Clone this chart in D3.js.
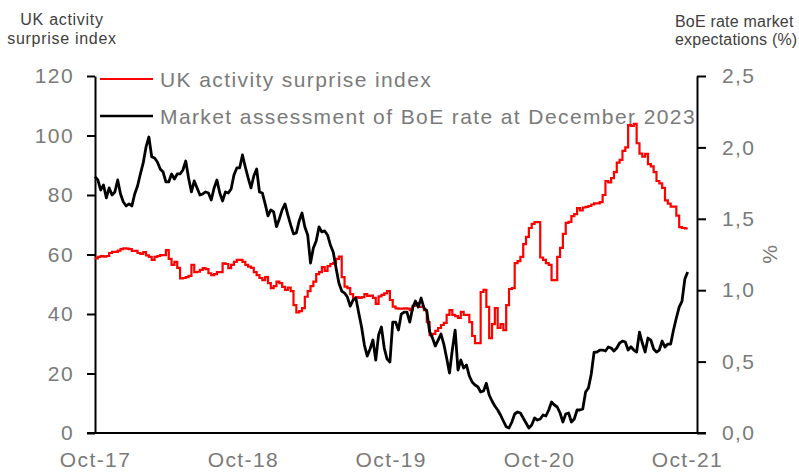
<!DOCTYPE html>
<html><head><meta charset="utf-8">
<script src="https://cdn.jsdelivr.net/npm/d3@7"></script>
<style>
html,body{margin:0;padding:0;background:#fff;}
svg text{font-family:"Liberation Sans",Arial,Helvetica,sans-serif;}
</style></head>
<body>
<svg id="chart" width="799" height="472"></svg>
<script>
// ---------------- DATA ----------------
const seriesNames = ["UK activity surprise index", "Market assessment of BoE rate at December 2023"];
const startDate = "2017-10-01";      // first weekly observation
const stepDays = 7;                  // weekly observations
// UK activity surprise index (left axis), weekly
const surpriseIndex = [
58.7,59.2,59.5,59.3,59.5,60.5,60.9,60.9,61.3,61.8,62.1,62.0,61.8,61.2,61.2,60.5,60.2,60.8,59.7,59.2,
58.2,59.2,59.5,59.8,59.8,61.5,58.5,56.5,57.5,55.5,52.0,52.1,52.4,52.8,56.5,54.1,54.2,54.8,55.4,55.1,
53.7,53.1,53.4,54.1,54.1,57.0,56.8,55.4,56.5,57.5,58.2,58.2,57.5,56.5,55.9,55.5,54.1,53.1,52.1,51.4,
52.4,50.4,48.7,49.4,50.9,50.4,49.1,48.1,48.9,47.7,43.0,40.5,41.0,42.0,45.8,47.7,49.4,50.9,53.4,54.1,
55.8,54.5,56.1,56.8,57.1,58.5,59.3,52.4,49.2,48.7,46.7,45.3,45.7,45.4,45.7,46.7,46.1,46.2,45.4,43.4,
45.9,46.4,46.9,47.7,44.7,42.5,41.9,41.8,41.8,41.9,41.8,41.3,42.7,43.7,42.4,42.4,41.3,37.3,32.9,33.3,
34.3,35.3,36.3,37.0,39.7,41.3,39.7,39.3,38.7,40.7,39.7,39.7,37.3,32.6,30.2,30.2,47.4,48.1,42.4,31.9,
36.6,42.0,35.3,36.6,34.6,43.0,48.4,48.7,57.1,57.8,59.2,63.5,65.9,68.9,70.3,70.9,70.9,59.0,58.2,57.1,
56.5,51.4,51.4,59.2,62.2,66.9,70.6,71.0,72.9,73.6,75.6,74.8,75.8,76.0,76.3,76.8,77.2,77.2,77.6,80.0,
84.7,84.2,85.7,87.7,90.9,91.8,94.8,96.0,103.5,103.2,103.9,97.4,93.9,92.9,93.8,90.4,89.6,87.7,84.7,83.9,
82.4,78.2,77.1,76.1,76.1,73.1,69.2,68.9,68.8,68.8
];
// Market assessment of BoE rate at December 2023 (%, right axis), weekly
const boeRate = [
1.795,1.772,1.702,1.737,1.646,1.716,1.667,1.688,1.772,1.674,1.618,1.590,1.604,1.590,1.674,1.730,1.814,1.891,2.003,2.073,
1.935,1.926,1.898,1.849,1.828,1.758,1.758,1.814,1.779,1.814,1.814,1.842,1.905,1.786,1.688,1.765,1.716,1.667,1.674,1.688,
1.681,1.632,1.716,1.772,1.681,1.625,1.688,1.681,1.709,1.807,1.856,1.856,1.947,1.863,1.786,1.716,1.800,1.849,1.688,1.681,
1.604,1.520,1.562,1.548,1.445,1.499,1.562,1.604,1.527,1.457,1.394,1.401,1.485,1.541,1.443,1.387,1.190,1.296,1.345,1.443,
1.408,1.415,1.387,1.317,1.268,1.155,1.050,0.994,0.980,0.952,0.889,0.931,0.945,0.840,0.742,0.616,0.539,0.588,0.651,0.511,
0.686,0.742,0.595,0.518,0.497,0.777,0.777,0.721,0.833,0.847,0.847,0.777,0.875,0.924,0.882,0.945,0.875,0.854,0.709,0.665,
0.609,0.651,0.693,0.623,0.525,0.420,0.581,0.721,0.441,0.511,0.455,0.476,0.399,0.357,0.336,0.324,0.287,0.294,0.348,0.266,
0.224,0.189,0.161,0.126,0.084,0.044,0.035,0.077,0.133,0.147,0.140,0.105,0.070,0.035,0.056,0.105,0.091,0.098,0.126,0.119,
0.161,0.217,0.196,0.182,0.140,0.077,0.133,0.140,0.077,0.098,0.161,0.161,0.168,0.287,0.315,0.413,0.567,0.567,0.581,0.581,
0.574,0.602,0.595,0.574,0.595,0.630,0.644,0.637,0.581,0.604,0.581,0.567,0.707,0.630,0.567,0.665,0.651,0.588,0.567,0.581,
0.644,0.602,0.623,0.623,0.721,0.805,0.882,0.924,1.078,1.127
];
const xTickDates = ["2017-10-01","2018-10-01","2019-10-01","2020-10-01","2021-10-01"];
const xTickLabels = ["Oct-17","Oct-18","Oct-19","Oct-20","Oct-21"];
const leftTicks = [0,20,40,60,80,100,120];
const rightTicks = [0,0.5,1.0,1.5,2.0,2.5];
const rightTickLabels = ["0,0","0,5","1,0","1,5","2,0","2,5"];
const xDomain = ["2017-10-01","2021-10-26"];
const leftTitle = ["UK activity","surprise index"];
const rightTitle = ["BoE rate market","expectations (%)"];
const rightUnit = "%";

// ---------------- CHART ----------------
const parse = d3.timeParse("%Y-%m-%d");
const start = parse(startDate);
const dates = surpriseIndex.map((_, i) => d3.timeDay.offset(start, i * stepDays));
const redData = surpriseIndex.map((v, i) => ({d: dates[i], v}));
const blackData = boeRate.map((v, i) => ({d: d3.timeDay.offset(start, i * stepDays), v}));

const m = {left: 95, right: 697, top: 76, bottom: 433};
const svg = d3.select("#chart");
const x = d3.scaleTime().domain(xDomain.map(parse)).range([m.left, m.right]);
const yL = d3.scaleLinear().domain([0, 120]).range([m.bottom, m.top]);
const yR = d3.scaleLinear().domain([0, 2.5]).range([m.bottom, m.top]);

const grey = "#7a7a7a";
const tickFont = "21px";
const ls = "1.4px";

// left axis
const gL = svg.append("g").attr("transform", `translate(${m.left},0)`)
  .call(d3.axisLeft(yL).tickValues(leftTicks).tickFormat(d3.format("d")).tickSize(8).tickSizeOuter(0).tickPadding(13));
// right axis
const gR = svg.append("g").attr("transform", `translate(${m.right},0)`)
  .call(d3.axisRight(yR).tickValues(rightTicks).tickFormat((d, i) => rightTickLabels[i]).tickSize(9).tickSizeOuter(0).tickPadding(16));
// bottom axis
const gB = svg.append("g").attr("transform", `translate(0,${m.bottom})`)
  .call(d3.axisBottom(x).tickValues(xTickDates.map(parse)).tickFormat((d, i) => xTickLabels[i]).tickSize(0).tickSizeOuter(0).tickPadding(19));
gB.select(".domain").remove();
svg.append("line").attr("x1", m.left - 8).attr("x2", m.right + 9)
  .attr("y1", m.bottom).attr("y2", m.bottom).attr("stroke", "#000").attr("stroke-width", 2.2);

[gL, gR, gB].forEach(g => {
  g.selectAll(".domain").attr("stroke", "#000").attr("stroke-width", 2);
  g.selectAll(".tick line").attr("stroke", "#000").attr("stroke-width", 2);
  g.selectAll("text").attr("fill", grey).style("font-size", tickFont).style("letter-spacing", ls)
    .style("font-family", '"Liberation Sans",Arial,sans-serif');
});
gB.selectAll("text").attr("dy", "0.71em");

// lines
const lineRed = d3.line().x(d => x(d.d)).y(d => yL(d.v)).curve(d3.curveStepAfter);
const lineBlack = d3.line().x(d => x(d.d)).y(d => yR(d.v));
svg.append("path").datum(redData).attr("d", lineRed)
  .attr("fill", "none").attr("stroke", "#ff0000").attr("stroke-width", 2.2);
svg.append("path").datum(blackData).attr("d", lineBlack)
  .attr("fill", "none").attr("stroke", "#000").attr("stroke-width", 2.8).attr("stroke-linejoin", "round");

// legend
const legY = [79, 116];
const legColors = ["#ff0000", "#000000"];
seriesNames.forEach((n, i) => {
  svg.append("line").attr("x1", 100).attr("x2", 153).attr("y1", legY[i]).attr("y2", legY[i])
    .attr("stroke", legColors[i]).attr("stroke-width", i ? 2.6 : 2.2);
  svg.append("text").attr("x", 160).attr("y", legY[i]).attr("dy", "0.36em")
    .attr("fill", grey).style("font-size", tickFont).style("letter-spacing", ls).text(n);
});

// axis titles
const titleColor = "#404040";
leftTitle.forEach((t, i) => {
  svg.append("text").attr("x", 62).attr("y", 25 + i * 18.5).attr("text-anchor", "middle")
    .attr("fill", titleColor).style("font-size", "16px").style("letter-spacing", "0.7px").text(t);
});
rightTitle.forEach((t, i) => {
  svg.append("text").attr("x", 675).attr("y", 27 + i * 18).attr("text-anchor", "start")
    .attr("fill", titleColor).style("font-size", "16px").style("letter-spacing", "0.2px").text(t);
});
svg.append("text").attr("transform", `translate(770,${(m.top + m.bottom) / 2}) rotate(-90)`)
  .attr("text-anchor", "middle").attr("dy", "0.35em").attr("fill", grey)
  .style("font-size", tickFont).text(rightUnit);
</script>
</body></html>
